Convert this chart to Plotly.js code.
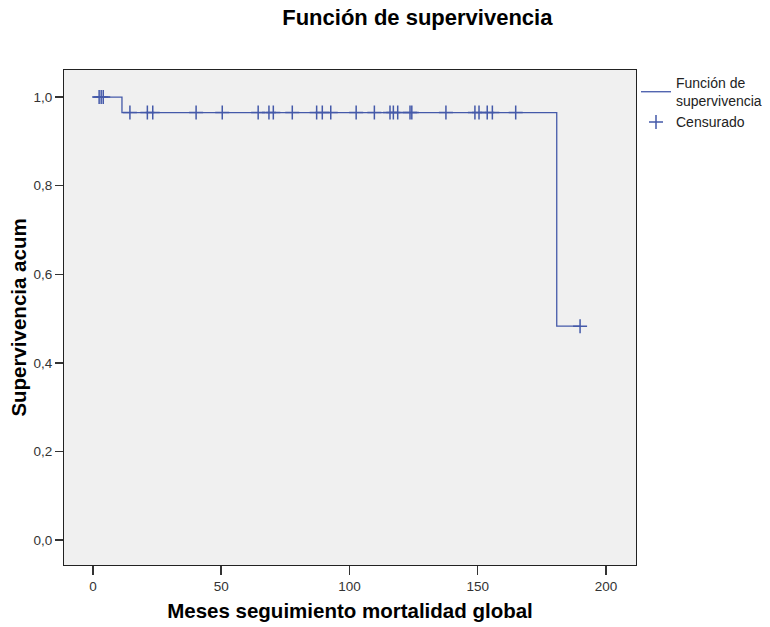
<!DOCTYPE html>
<html>
<head>
<meta charset="utf-8">
<script src="https://cdn.plot.ly/plotly-3.0.1.min.js"></script>
<style>html,body{margin:0;padding:0;background:#fff;}#chart{width:770px;height:627px;}</style>
</head>
<body>
<div id="chart"></div>
<script>
// Kaplan-Meier step function
var stepTimes = [0, 11.3, 180.8, 189.9];
var stepSurvival = [1.0, 0.965, 0.483, 0.483];

// Censored observations
var censorTimes = [2.4, 3.2, 4.0,
  14.4, 21.2, 23.3, 40.2, 50.4, 64.4, 68.6, 70.3, 77.7, 87.2, 89.4, 92.7, 102.6,
  109.7, 115.8, 117.1, 118.8, 123.6, 124.3, 137.6, 148.9, 150.5, 153.7, 155.7, 164.8,
  189.9];
var censorSurvival = [1.0, 1.0, 1.0,
  0.965, 0.965, 0.965, 0.965, 0.965, 0.965, 0.965, 0.965, 0.965, 0.965, 0.965, 0.965, 0.965,
  0.965, 0.965, 0.965, 0.965, 0.965, 0.965, 0.965, 0.965, 0.965, 0.965, 0.965, 0.965,
  0.483];

var xTicks = [0, 50, 100, 150, 200];
var yTicks = [0, 0.2, 0.4, 0.6, 0.8, 1.0];

var blue = '#4459a9';
var fontFam = '"Liberation Sans", Arial, sans-serif';

var traces = [
  {
    x: stepTimes, y: stepSurvival, type: 'scatter', mode: 'lines',
    line: {shape: 'hv', color: blue, width: 1.3},
    name: 'Función de<br>supervivencia'
  },
  {
    x: censorTimes, y: censorSurvival, type: 'scatter', mode: 'markers',
    marker: {symbol: 'cross-thin', size: 10, line: {color: blue, width: 1.5}, color: blue},
    name: 'Censurado'
  }
];

var layout = {
  width: 770, height: 627,
  separators: ',.',
  margin: {l: 64, r: 134, t: 70, b: 62, autoexpand: false},
  paper_bgcolor: '#ffffff',
  plot_bgcolor: '#f0f0f0',
  font: {family: fontFam, color: '#222'},
  title: {text: '<b>Función de supervivencia</b>', font: {size: 22, family: fontFam, color: '#000'}, x: 0.542, xanchor: 'center', y: 0.973, yanchor: 'middle'},
  xaxis: {
    range: [-11.3, 211.7], tickvals: xTicks, ticktext: xTicks.map(String),
    showgrid: false, zeroline: false, showline: true, linecolor: '#222', linewidth: 1, mirror: true,
    ticks: 'outside', ticklen: 9, tickwidth: 1.5, tickcolor: '#333',
    tickfont: {size: 13.5, color: '#333'},
    title: {text: '<b>Meses seguimiento mortalidad global</b>', font: {size: 20.5, color: '#000'}, standoff: 10}
  },
  yaxis: {
    range: [-0.056, 1.061], tickvals: yTicks, tickformat: '.1f',
    showgrid: false, zeroline: false, showline: true, linecolor: '#222', linewidth: 1, mirror: true,
    ticks: 'outside', ticklen: 8, tickwidth: 1.5, tickcolor: '#333',
    tickfont: {size: 13.5, color: '#333'},
    title: {text: '<b>Supervivencia acum</b>', font: {size: 20.5, color: '#000'}, standoff: 1}
  },
  showlegend: true,
  legend: {x: 1.0, xanchor: 'left', y: 1.006, yanchor: 'top', font: {size: 14, color: '#222'}, bgcolor: 'rgba(0,0,0,0)', tracegroupgap: 0, itemwidth: 30}
};

Plotly.newPlot('chart', traces, layout, {displayModeBar: false, staticPlot: true});
</script>
</body>
</html>
